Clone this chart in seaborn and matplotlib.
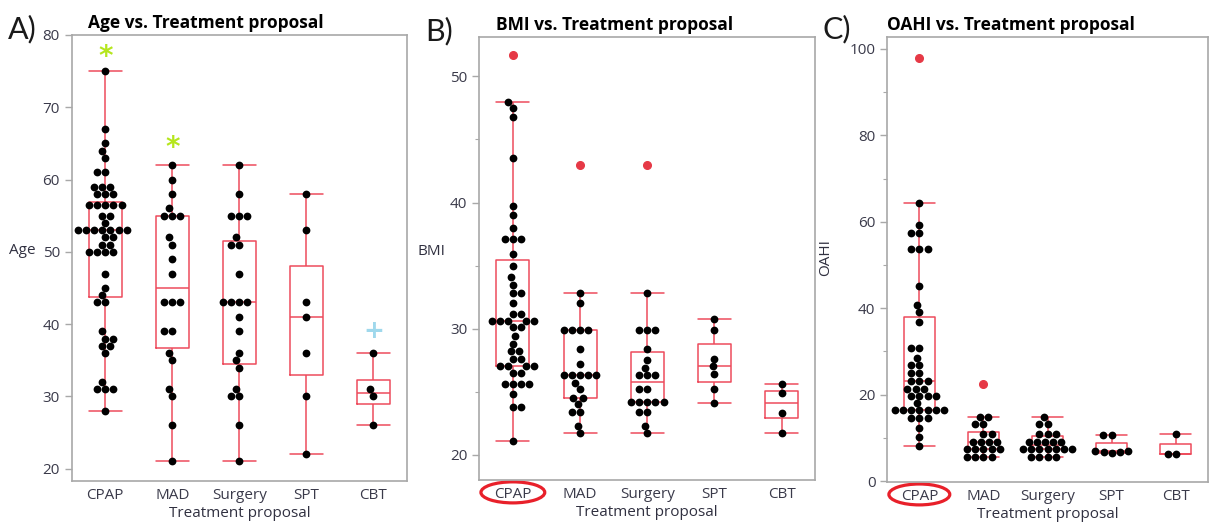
import numpy as np
import pandas as pd
import seaborn as sns
import matplotlib.pyplot as plt
from matplotlib.ticker import MultipleLocator
from matplotlib.patches import Ellipse
from matplotlib.transforms import blended_transform_factory

groups = ["CPAP", "MAD", "Surgery", "SPT", "CBT"]

# --- Age ---
age_cpap = [75, 67, 65, 64, 63, 61, 61, 59, 59, 59, 58, 58, 58,
            56.5, 56.5, 56.5, 56.5, 56.5, 55, 55, 54,
            53, 53, 53, 53, 53, 53, 53, 52, 52, 51, 51, 50, 50, 50, 50,
            47, 45, 44, 43, 43, 39, 38, 38, 37, 37, 36, 32, 31, 31, 31, 28]
age_mad = [62, 60, 58, 56, 55, 55, 55, 52, 51, 49, 47, 43, 43, 43,
           39, 39, 36, 35, 31, 30, 26, 21]
age_surgery = [62, 58, 55, 55, 55, 52, 51, 51, 47, 43, 43, 43, 43, 41,
               39, 36, 35, 34, 31, 30, 30, 26, 21]
age_spt = [58, 53, 43, 41, 36, 30, 22]
age_cbt = [36, 31, 30, 26]

# --- BMI ---
bmi_cpap = [51.7, 48.0, 47.5, 46.8, 43.5, 39.7, 39.0, 38.0, 37.1, 37.1, 37.1,
            35.9, 35.0, 34.1, 33.5, 32.8, 32.8, 32.0, 31.2, 31.2,
            30.6, 30.6, 30.6, 30.6, 30.6, 30.1, 30.1, 29.4, 28.8, 28.2, 28.2,
            27.6, 27.6, 27.0, 27.0, 27.0, 27.0, 26.5, 26.5,
            25.6, 25.6, 25.6, 25.6, 24.8, 23.8, 23.8, 21.1]
bmi_mad = [43.0, 32.8, 32.0, 29.9, 29.9, 29.9, 29.9, 28.4, 27.2,
           26.3, 26.3, 26.3, 26.3, 26.3, 25.7, 25.2, 24.5, 24.5, 24.0,
           23.4, 23.4, 22.3, 21.7]
bmi_surgery = [43.0, 32.8, 29.9, 29.9, 29.9, 28.4, 27.5, 26.9, 26.3, 26.3, 26.3,
               25.2, 25.2, 24.2, 24.2, 24.2, 24.2, 24.2, 23.4, 23.4, 22.3, 21.7]
bmi_spt = [30.8, 29.9, 27.6, 27.0, 26.4, 25.2, 24.1]
bmi_cbt = [25.6, 24.9, 23.3, 21.7]

# --- OAHI ---
oahi_cpap = [98.0, 64.3, 59.2, 57.4, 57.4, 53.7, 53.7, 53.7, 45.1, 40.8, 39.1,
             36.8, 30.8, 30.8, 28.5, 26.8, 26.8, 25.0, 25.0, 23.2, 23.2, 23.2,
             21.4, 21.4, 21.4, 19.8, 19.8, 19.8, 19.8, 18.1,
             16.4, 16.4, 16.4, 16.4, 16.4, 16.4, 16.4, 14.6, 14.6, 14.6,
             12.2, 10.1, 8.2]
oahi_mad = [22.5, 14.9, 14.9, 13.3, 13.3, 10.8, 10.8, 9.1, 9.1, 9.1, 9.1,
            7.4, 7.4, 7.4, 7.4, 7.4, 5.6, 5.6, 5.6, 5.6]
oahi_surgery = [14.9, 13.3, 13.3, 11.0, 11.0, 11.0, 9.1, 9.1, 9.1, 9.1, 9.1,
                7.4, 7.4, 7.4, 7.4, 7.4, 7.4, 7.4, 5.6, 5.6, 5.6, 5.6]
oahi_spt = [10.6, 10.6, 7.0, 7.0, 6.8, 6.8, 6.5]
oahi_cbt = [10.8, 6.2, 6.2]

# significance markers (group, y, symbol, colour) for panel A
sig_groups = ["CPAP", "MAD", "CBT"]
sig_y = [76.9, 64.3, 39.0]
sig_sym = ["*", "*", "+"]
sig_col = ["#B5E61D", "#B5E61D", "#9FD8EC"]

BOX_RED = "#EE4B5C"
OUT_RED = "#E63946"

sns.set_theme(style="white")
plt.rcParams['font.family'] = ['Open Sans', 'DejaVu Sans']


def long_table(name, lists):
    parts = []
    for g, vals in zip(groups, lists):
        v = np.asarray(vals, float)
        q1, q3 = np.percentile(v, [25, 75])
        iqr = q3 - q1
        inside = (v >= q1 - 1.5 * iqr) & (v <= q3 + 1.5 * iqr)
        parts.append(pd.DataFrame({"Treatment proposal": g, name: v, "inlier": inside}))
    return pd.concat(parts, ignore_index=True)


def draw_panel(ax, df, name):
    sns.boxplot(data=df, x="Treatment proposal", y=name, order=groups, ax=ax,
                fill=False, color=BOX_RED, width=0.49, linewidth=1.1, whis=1.5,
                capwidths=0.49,
                flierprops=dict(marker="o", markerfacecolor=OUT_RED,
                                markeredgecolor=OUT_RED, markersize=5.5))
    sns.swarmplot(data=df[df["inlier"]], x="Treatment proposal", y=name,
                  order=groups, ax=ax, color="black", size=5.6, linewidth=0,
                  zorder=3)
    for s in ax.spines.values():
        s.set_color("#A8A8A8")
        s.set_linewidth(1.2)
    ax.tick_params(axis="y", which="both", left=True, direction="out",
                   color="#A8A8A8", labelsize=11, labelcolor="#3a3a4a")
    ax.tick_params(axis="y", which="major", length=5, width=1)
    ax.tick_params(axis="y", which="minor", length=3, width=0.8)
    ax.tick_params(axis="x", length=0, pad=5, labelsize=11, labelcolor="#3a3a4a")
    ax.set_xlabel("Treatment proposal", fontsize=11, color="#303040", labelpad=2)


fig = plt.figure(figsize=(12.09, 5.27), dpi=100)
axA = fig.add_axes([0.0593, 0.0873, 0.2773, 0.8463])
axB = fig.add_axes([0.3964, 0.0892, 0.2779, 0.8400])
axC = fig.add_axes([0.7339, 0.0854, 0.2651, 0.8438])

# A) Age
dfA = long_table("Age", [age_cpap, age_mad, age_surgery, age_spt, age_cbt])
draw_panel(axA, dfA, "Age")
axA.set_ylim(18.3, 80)
axA.set_yticks(range(20, 81, 10))
axA.set_ylabel("Age", rotation=0, fontsize=11, color="#303040")
axA.yaxis.set_label_coords(-0.147, 0.5)
for g, y, s, c in zip(sig_groups, sig_y, sig_sym, sig_col):
    axA.text(groups.index(g), y, s, color=c, fontsize=20 if s == "*" else 18,
             fontweight="bold", ha="center", va="center",
             family="DejaVu Sans")

# B) BMI
dfB = long_table("BMI", [bmi_cpap, bmi_mad, bmi_surgery, bmi_spt, bmi_cbt])
draw_panel(axB, dfB, "BMI")
axB.set_ylim(18.0, 53.1)
axB.set_yticks([20, 30, 40, 50])
axB.yaxis.set_minor_locator(MultipleLocator(5))
axB.set_ylabel("BMI", rotation=0, fontsize=11, color="#303040")
axB.yaxis.set_label_coords(-0.142, 0.5)

# C) OAHI
dfC = long_table("OAHI", [oahi_cpap, oahi_mad, oahi_surgery, oahi_spt, oahi_cbt])
draw_panel(axC, dfC, "OAHI")
axC.set_ylim(-0.2, 102.7)
axC.set_yticks(range(0, 101, 20))
axC.yaxis.set_minor_locator(MultipleLocator(10))
axC.set_ylabel("OAHI", fontsize=11, color="#303040")
axC.yaxis.set_label_coords(-0.169, 0.505)

titles = ["Age vs. Treatment proposal", "BMI vs. Treatment proposal",
          "OAHI vs. Treatment proposal"]
title_x = [0.049, 0.05, 0.0]
for ax, t, tx in zip([axA, axB, axC], titles, title_x):
    ax.annotate(t, xy=(tx, 1.0), xycoords="axes fraction", xytext=(0, 5),
                textcoords="offset points", ha="left", va="baseline",
                fontsize=12.5, fontweight="bold", color="black")

# red ellipse around the CPAP label in B and C
for ax, h in [(axB, 0.0475), (axC, 0.047)]:
    tr = blended_transform_factory(ax.transData, ax.transAxes)
    ax.add_patch(Ellipse((0, -0.028), 0.95, h, transform=tr, fill=False,
                         ec="#E8202A", lw=2.3, clip_on=False))

# panel letters
for lx, ly, lt in [(8, 29, "A)"), (425, 31, "B)"), (823, 29, "C)")]:
    fig.text(lx / 1209, 1 - ly / 527, lt, fontsize=22, family="Lato",
             color="#1a1a1a", ha="left", va="center")

fig.savefig("out.png", dpi=100)
